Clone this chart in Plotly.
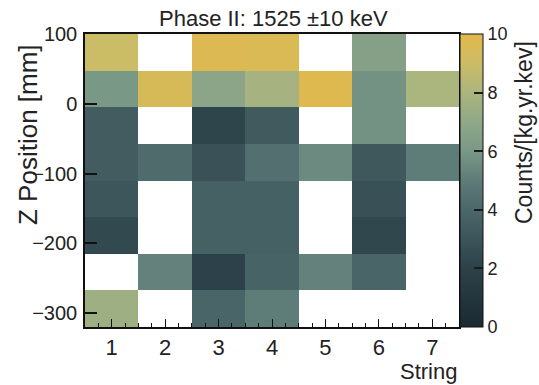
import plotly.graph_objects as go

# Detector strings along x, Z-position bins (52.5 mm wide) along y
strings = [1, 2, 3, 4, 5, 6, 7]
z_edges = [-320.0, -267.5, -215.0, -162.5, -110.0, -57.5, -5.0, 47.5, 100.0]
z_centers = [(a + b) / 2 for a, b in zip(z_edges[:-1], z_edges[1:])]

# Counts/[kg.yr.keV] per (string, z) bin, rows listed from top (z=100) to bottom; None = empty bin
rate_top_to_bottom = [
    [9.0, None, 9.7, 9.6, None, 6.5, None],
    [6.0, 9.5, 6.8, 7.8, 9.8, 5.8, 8.0],
    [3.4, None, 2.2, 3.3, None, 5.8, None],
    [3.4, 4.2, 2.9, 4.4, 5.5, 3.2, 5.0],
    [3.1, None, 3.7, 3.7, None, 2.8, None],
    [2.4, None, 3.7, 3.7, None, 2.3, None],
    [None, 5.2, 2.0, 3.8, 5.2, 3.9, None],
    [7.5, None, 3.9, 5.0, None, None, None],
]
rate = rate_top_to_bottom[::-1]

y_ticks = [100, 0, -100, -200, -300]
cbar_ticks = [0, 2, 4, 6, 8, 10]

palette = [
    [0.0, "#1b2a31"],
    [0.2, "#2c4149"],
    [0.4, "#4b6769"],
    [0.5, "#5e7c78"],
    [0.6, "#7a9886"],
    [0.7, "#90a888"],
    [0.8, "#abb57e"],
    [0.9, "#cbbc66"],
    [1.0, "#e3b84a"],
]

# plot area in pixels
L, R, T, B = 85, 459, 34, 327
W, H = 539, 385
pw, ph = R - L, B - T


def px(x):
    return (x - L) / pw


def py(y):
    return (B - y) / ph


FONT = "Liberation Sans, Arial, sans-serif"
INK = "#222222"

fig = go.Figure(
    go.Heatmap(
        x=strings,
        y=z_centers,
        z=rate,
        zmin=0,
        zmax=10,
        colorscale=palette,
        hoverongaps=False,
        colorbar=dict(
            x=px(460),
            xanchor="left",
            xpad=0,
            ypad=0,
            y=0.5,
            yanchor="middle",
            len=1,
            lenmode="fraction",
            thickness=23,
            thicknessmode="pixels",
            outlinewidth=1,
            outlinecolor="#111111",
            tickmode="array",
            tickvals=cbar_ticks,
            ticks="inside",
            ticklen=9,
            tickwidth=1.5,
            tickcolor="#1a1a1a",
            ticklabelposition="outside",
            tickfont=dict(family=FONT, size=18, color=INK),
        ),
    )
)

fig.update_layout(
    width=W,
    height=H,
    margin=dict(l=L, r=W - R, t=T, b=H - B, pad=0),
    paper_bgcolor="white",
    plot_bgcolor="white",
    showlegend=False,
    xaxis=dict(
        range=[0.5, 7.5],
        tickmode="array",
        tickvals=strings,
        ticks="inside",
        ticklen=8,
        tickwidth=1.2,
        tickcolor="#111111",
        minor=dict(dtick=0.25, tick0=0.5, ticks="inside", ticklen=4, tickcolor="#111111"),
        showgrid=False,
        zeroline=False,
        showline=True,
        linecolor="#111111",
        linewidth=1.5,
        mirror=True,
        tickfont=dict(family=FONT, size=22, color=INK),
        ticklabelstandoff=0,
    ),
    yaxis=dict(
        range=[-320, 100],
        tickmode="array",
        tickvals=y_ticks,
        ticks="inside",
        ticklen=12,
        tickwidth=1.5,
        tickcolor="#111111",
        showgrid=False,
        zeroline=False,
        showline=True,
        linecolor="#111111",
        linewidth=1.5,
        mirror=True,
        tickfont=dict(family=FONT, size=20, color=INK),
        ticklabelstandoff=2,
    ),
    annotations=[
        dict(text="Phase II: 1525 ±10 keV", xref="paper", yref="paper",
             x=px(273), y=py(18), xanchor="center", yanchor="middle",
             showarrow=False, font=dict(family=FONT, size=22, color=INK)),
        dict(text="Z Position [mm]", xref="paper", yref="paper",
             x=px(28), y=py(135), xanchor="center", yanchor="middle", textangle=-90,
             showarrow=False, font=dict(family=FONT, size=26, color=INK)),
        dict(text="String", xref="paper", yref="paper",
             x=px(458), y=py(385), xanchor="right", yanchor="bottom", borderpad=0,
             showarrow=False, font=dict(family=FONT, size=22, color=INK)),
        dict(text="Counts/[kg.yr.kev]", xref="paper", yref="paper",
             x=px(524), y=py(133), xanchor="center", yanchor="middle", textangle=-90,
             showarrow=False, font=dict(family=FONT, size=23, color=INK)),
    ],
)

fig.write_html("out.html")
